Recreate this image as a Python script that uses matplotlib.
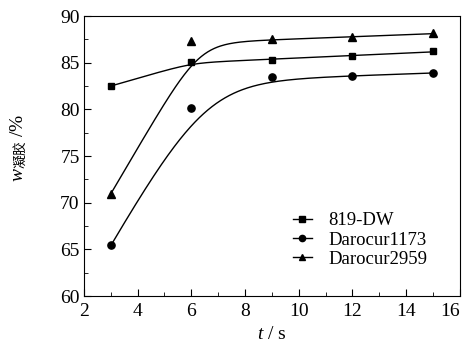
import numpy as np
import matplotlib
matplotlib.use("Agg")
import matplotlib.pyplot as plt
from matplotlib.ticker import MultipleLocator

# Data
t = [3, 6, 9, 12, 15]
w_819 = [82.5, 85.1, 85.3, 85.7, 86.2]
w_1173 = [65.5, 80.2, 83.5, 83.6, 83.9]
w_2959 = [70.9, 87.3, 87.5, 87.8, 88.2]
labels = ["819-DW", "Darocur1173", "Darocur2959"]
x_ticks = [2, 4, 6, 8, 10, 12, 14, 16]

# Fitted-curve parameters (estimated from the drawn fit lines)
# y = a + b*x - c*w*ln(1 + exp((x0 - x)/w))  -> rising line bending into a slow plateau
fit_819 = dict(a=84.21, b=0.13, c=0.70, x0=6.0, w=0.4)
fit_1173 = dict(a=82.4, b=0.10, c=4.9, x0=6.5, w=1.0)
fit_2959 = dict(a=86.46, b=0.11, c=4.8, x0=6.3, w=0.5)


def knee(x, a, b, c, x0, w):
    return a + b * x - c * w * np.log1p(np.exp((x0 - x) / w))


plt.rcParams["font.family"] = ["Liberation Serif", "Noto Sans CJK SC"]
plt.rcParams["mathtext.fontset"] = "custom"
plt.rcParams["mathtext.it"] = "Liberation Serif:italic"
plt.rcParams["mathtext.rm"] = "Noto Sans CJK SC"

fig = plt.figure(figsize=(4.66, 3.48), dpi=100)
ax = fig.add_axes([0.180, 0.149, 0.807, 0.805])

xs = np.linspace(3, 15, 300)
for fit in (fit_819, fit_1173, fit_2959):
    ax.plot(xs, knee(xs, **fit), color="black", lw=1.0)

ax.plot(t, w_819, "s", color="black", ms=5)
ax.plot(t, w_1173, "o", color="black", ms=5.2)
ax.plot(t, w_2959, "^", color="black", ms=6.3)

# legend handles: line + marker
handles = [
    plt.Line2D([], [], color="black", lw=1.0, marker="s", ms=4),
    plt.Line2D([], [], color="black", lw=1.0, marker="o", ms=4.5),
    plt.Line2D([], [], color="black", lw=1.0, marker="^", ms=5),
]
ax.legend(handles, labels, loc="center left", frameon=False, fontsize=13.5,
          handlelength=1.0, handletextpad=0.9, labelspacing=0.12,
          borderpad=0, borderaxespad=0, bbox_to_anchor=(0.556, 0.2))

ax.set_xlim(2, 16)
ax.set_ylim(60, 90)
ax.set_xticks(x_ticks)
ax.xaxis.set_minor_locator(MultipleLocator(1))
ax.yaxis.set_major_locator(MultipleLocator(5))
ax.yaxis.set_minor_locator(MultipleLocator(2.5))
ax.tick_params(which="both", direction="in", labelsize=14)
ax.tick_params(which="major", length=5)
ax.tick_params(which="minor", length=3)
ax.tick_params(axis="x", pad=5)
ax.tick_params(axis="y", pad=3)
# last x label pulled inside the figure, as in the original
ax.get_xticklabels()[-1].set_horizontalalignment("right")

ax.set_xlabel(r"$t$ / s", fontsize=14)
ax.xaxis.set_label_coords(0.5, -0.105)
ax.set_ylabel(r"$w_{\mathrm{凝胶}}$ /%", fontsize=14)
ax.yaxis.set_label_coords(-0.145, 0.53)

fig.savefig("out.png", dpi=100)
